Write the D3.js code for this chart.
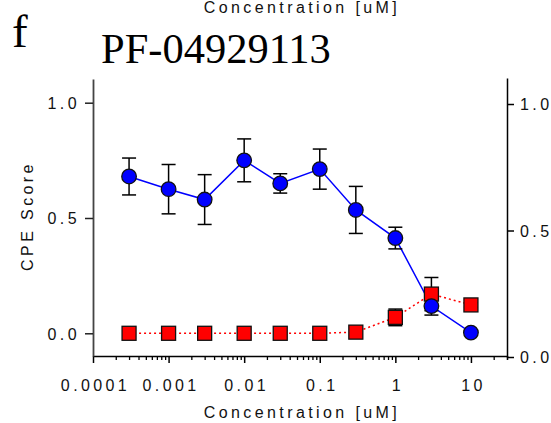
<!DOCTYPE html>
<html>
<head>
<meta charset="utf-8">
<script src="https://cdn.jsdelivr.net/npm/d3@7"></script>
<style>
  body { margin: 0; background: #fff; }
  svg { display: block; }
  text { font-family: "Liberation Sans", Arial, sans-serif; }
</style>
</head>
<body>
<svg id="chart" width="551" height="423"></svg>
<script>
// ---- data ----
const concentrations = [0.0003, 0.001, 0.003, 0.01, 0.03, 0.1, 0.3, 1, 3, 10];
const cpeMean = [0.68, 0.625, 0.58, 0.75, 0.65, 0.712, 0.535, 0.413, 0.118, 0.003];
const cpeErr  = [0.08, 0.107, 0.108, 0.093, 0.042, 0.087, 0.102, 0.047, 0.039, 0];
const toxMean = [0, 0, 0, 0, 0, 0, 0.005, 0.069, 0.17, 0.123];
const toxErr  = [0, 0, 0, 0, 0, 0, 0, 0.036, 0.072, 0.01];
const xTickValues = [0.0001, 0.001, 0.01, 0.1, 1, 10];
const xTickLabels = ["0.0001", "0.001", "0.01", "0.1", "1", "10"];
const yTickValues = [0, 0.5, 1];
const yTickLabels = ["0.0", "0.5", "1.0"];
const panelLetter = "f";
const title = "PF-04929113";
const xTitle = "Concentration [uM]";
const yTitle = "CPE Score";

const svg = d3.select("#chart");

const x = d3.scaleLog().domain([1e-4, 30]).range([93, 507]);
const yL = d3.scaleLinear().domain([-0.0985, 1.1028]).range([356, 79]);
const yR = d3.scaleLinear().domain([0, 1.1028]).range([357, 78]);

// minor ticks
const minorTicks = [];
for (let e = -4; e <= 1; e++) {
  for (let m = 2; m <= 9; m++) {
    const v = m * Math.pow(10, e);
    if (v <= 30) minorTicks.push(v);
  }
}
minorTicks.push(30);

const LS = "3.4px";

// x axis minor
const gxMinor = svg.append("g").attr("transform", "translate(0,356)")
  .call(d3.axisBottom(x).tickValues(minorTicks).tickSize(4).tickFormat(""));
gxMinor.select(".domain").remove();
gxMinor.selectAll("line").attr("stroke", "#000").attr("stroke-width", 1.3);

// x axis major
const gx = svg.append("g").attr("transform", "translate(0,356)")
  .call(d3.axisBottom(x).tickValues(xTickValues).tickSize(7).tickSizeOuter(0)
    .tickFormat((d, i) => xTickLabels[i]));
gx.select(".domain").attr("stroke", "#000").attr("stroke-width", 1.5);
gx.selectAll(".tick line").attr("stroke", "#000").attr("stroke-width", 1.5);
gx.selectAll(".tick text")
  .attr("y", 35).attr("dy", 0)
  .attr("font-size", 16).attr("fill", "#111")
  .style("letter-spacing", LS)
  .attr("dx", 2);

// left axis
const gyL = svg.append("g").attr("transform", "translate(93,0)")
  .call(d3.axisLeft(yL).tickValues(yTickValues).tickSize(8).tickSizeOuter(0)
    .tickFormat((d, i) => yTickLabels[i]));
gyL.select(".domain").attr("stroke", "#444").attr("stroke-width", 1.8);
gyL.selectAll(".tick line").attr("stroke", "#222").attr("stroke-width", 1.5);
gyL.selectAll(".tick text")
  .attr("x", -13).attr("dy", "0.36em")
  .attr("font-size", 16).attr("fill", "#111")
  .style("letter-spacing", LS);

// right axis
const gyR = svg.append("g").attr("transform", "translate(507,0)")
  .call(d3.axisRight(yR).tickValues(yTickValues).tickSize(7).tickSizeOuter(0)
    .tickFormat((d, i) => yTickLabels[i]));
gyR.select(".domain").attr("stroke", "#000").attr("stroke-width", 1.5);
gyR.selectAll(".tick line").attr("stroke", "#000").attr("stroke-width", 1.5);
gyR.selectAll(".tick text")
  .attr("x", 13).attr("dy", "0.36em")
  .attr("font-size", 16).attr("fill", "#111")
  .style("letter-spacing", LS);

// titles
svg.append("text").attr("x", 300).attr("y", 418).attr("text-anchor", "middle")
  .attr("font-size", 16).attr("fill", "#111").style("letter-spacing", LS)
  .attr("dx", 2).text(xTitle);
svg.append("text").attr("x", 300).attr("y", 13).attr("text-anchor", "middle")
  .attr("font-size", 16).attr("fill", "#111").style("letter-spacing", LS)
  .attr("dx", 2).text(xTitle);
svg.append("text")
  .attr("transform", "translate(33,218) rotate(-90)")
  .attr("text-anchor", "middle").attr("font-size", 16).attr("fill", "#111")
  .style("letter-spacing", LS).attr("dx", 2).text(yTitle);
svg.append("text").attr("x", 101).attr("y", 63)
  .attr("font-family", "'Liberation Serif', 'Times New Roman', serif")
  .style("font-family", "'Liberation Serif', 'Times New Roman', serif")
  .attr("font-size", 42.5).attr("fill", "#000").text(title);
svg.append("text").attr("x", 12).attr("y", 47)
  .style("font-family", "'Liberation Serif', 'Times New Roman', serif")
  .attr("font-size", 47).attr("fill", "#000").text(panelLetter);

const cpe = concentrations.map((c, i) => ({ c, m: cpeMean[i], e: cpeErr[i] }));
const tox = concentrations.map((c, i) => ({ c, m: toxMean[i], e: toxErr[i] }));

const line = d3.line().x(d => x(d.c)).y(d => yL(d.m));

svg.append("path").datum(cpe).attr("d", line)
  .attr("fill", "none").attr("stroke", "#0000ff").attr("stroke-width", 1.5);
svg.append("path").datum(tox).attr("d", line)
  .attr("fill", "none").attr("stroke", "#ff0000").attr("stroke-width", 1.5)
  .attr("stroke-dasharray", "2,3");

function errorBars(data) {
  const g = svg.append("g").attr("stroke", "#000").attr("stroke-width", 1.5);
  data.filter(d => d.e > 0).forEach(d => {
    const cx = x(d.c), y1 = yL(d.m + d.e), y0 = yL(d.m - d.e);
    g.append("line").attr("x1", cx).attr("x2", cx).attr("y1", y1).attr("y2", y0);
    g.append("line").attr("x1", cx - 7).attr("x2", cx + 7).attr("y1", y1).attr("y2", y1);
    g.append("line").attr("x1", cx - 7).attr("x2", cx + 7).attr("y1", y0).attr("y2", y0);
  });
}
errorBars(tox);
errorBars(cpe);

svg.append("g").selectAll("rect").data(tox).join("rect")
  .attr("x", d => x(d.c) - 7).attr("y", d => yL(d.m) - 7)
  .attr("width", 14).attr("height", 14)
  .attr("fill", "#ff0000").attr("stroke", "#111").attr("stroke-width", 1.3);

svg.append("g").selectAll("circle").data(cpe).join("circle")
  .attr("cx", d => x(d.c)).attr("cy", d => yL(d.m)).attr("r", 7.3)
  .attr("fill", "#0000ff").attr("stroke", "#111").attr("stroke-width", 1.3);
</script>
</body>
</html>
